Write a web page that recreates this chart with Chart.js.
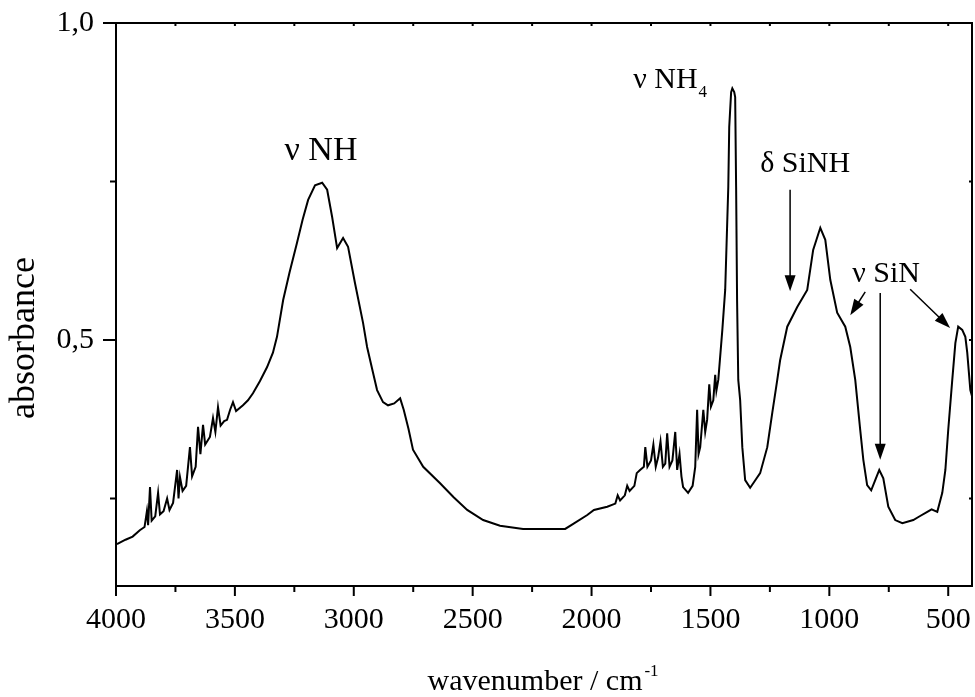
<!DOCTYPE html>
<html>
<head>
<meta charset="utf-8">
<script src="https://cdn.jsdelivr.net/npm/chart.js@4"></script>
<style>
  body { margin: 0; background: #fff; }
  canvas { display: block; }
</style>
</head>
<body>
<canvas id="spectrum" width="975" height="697"></canvas>
<script>
// IR spectrum (wavenumber in cm-1, absorbance)
const wavenumber = [
  3996, 3960, 3930, 3900, 3880, 3870, 3865, 3857, 3850, 3835, 3823, 3815,
  3800, 3785, 3775, 3760, 3743, 3737, 3731, 3720, 3705, 3689, 3680, 3665,
  3655, 3645, 3634, 3625, 3605, 3592, 3582, 3571, 3560, 3545, 3533, 3520,
  3508, 3495, 3466, 3445, 3424, 3395, 3365, 3340, 3323, 3297, 3270, 3239,
  3215, 3192, 3163, 3133, 3112, 3091, 3070, 3045, 3024, 2995, 2961, 2944,
  2920, 2902, 2877, 2856, 2830, 2805, 2790, 2770, 2751, 2708, 2637, 2580,
  2523, 2456, 2385, 2288, 2174, 2111, 2077, 2018, 1990, 1934, 1900, 1890,
  1880, 1860, 1850, 1840, 1820, 1810, 1796, 1780, 1774, 1765, 1750, 1740,
  1730, 1720, 1710, 1700, 1690, 1682, 1672, 1660, 1648, 1640, 1630, 1622,
  1615, 1594, 1575, 1564, 1556, 1550, 1543, 1530, 1522, 1514, 1505, 1498,
  1488, 1480, 1475, 1467, 1450, 1438, 1425, 1421, 1413, 1408, 1400, 1396,
  1392, 1388, 1383, 1375, 1366, 1354, 1333, 1320, 1291, 1261, 1240, 1219,
  1207, 1177, 1135, 1093, 1068, 1038, 1017, 996, 967, 933, 912, 891,
  870, 857, 841, 824, 807, 790, 773, 752, 723, 693, 647, 620,
  588, 570, 546, 525, 512, 500, 483, 470, 458, 441, 428, 420,
  407, 399
];
const absorbance = [
  0.178, 0.185, 0.190, 0.200, 0.205, 0.230, 0.208, 0.268, 0.215, 0.222, 0.259, 0.225,
  0.230, 0.250, 0.232, 0.243, 0.295, 0.250, 0.284, 0.262, 0.270, 0.331, 0.285, 0.300,
  0.363, 0.320, 0.366, 0.335, 0.347, 0.377, 0.355, 0.394, 0.365, 0.372, 0.374, 0.390,
  0.402, 0.388, 0.397, 0.405, 0.416, 0.435, 0.457, 0.480, 0.505, 0.563, 0.607, 0.653,
  0.690, 0.721, 0.744, 0.748, 0.737, 0.694, 0.645, 0.661, 0.647, 0.590, 0.527, 0.489,
  0.450, 0.421, 0.402, 0.397, 0.400, 0.408, 0.390, 0.360, 0.327, 0.300, 0.274, 0.252,
  0.232, 0.216, 0.207, 0.202, 0.202, 0.202, 0.210, 0.224, 0.232, 0.237, 0.242, 0.255,
  0.247, 0.255, 0.270, 0.262, 0.270, 0.290, 0.295, 0.300, 0.331, 0.300, 0.310, 0.335,
  0.300, 0.315, 0.340, 0.300, 0.305, 0.353, 0.300, 0.310, 0.355, 0.295, 0.320, 0.285,
  0.268, 0.259, 0.270, 0.300, 0.390, 0.320, 0.331, 0.390, 0.355, 0.374, 0.430, 0.395,
  0.405, 0.445, 0.420, 0.437, 0.516, 0.579, 0.741, 0.836, 0.891, 0.897, 0.891, 0.883,
  0.741, 0.563, 0.437, 0.405, 0.331, 0.279, 0.267, 0.274, 0.290, 0.331, 0.385, 0.437,
  0.468, 0.521, 0.552, 0.579, 0.642, 0.677, 0.658, 0.595, 0.543, 0.521, 0.489, 0.437,
  0.358, 0.311, 0.271, 0.263, 0.279, 0.295, 0.282, 0.237, 0.216, 0.211, 0.216, 0.222,
  0.229, 0.233, 0.229, 0.259, 0.295, 0.358, 0.437, 0.495, 0.521, 0.516, 0.505, 0.480,
  0.421, 0.410
];

const xTicks = [4000, 3750, 3500, 3250, 3000, 2750, 2500, 2250, 2000, 1750, 1500, 1250, 1000, 750, 500];
const xTickLabels = ['4000', '', '3500', '', '3000', '', '2500', '', '2000', '', '1500', '', '1000', '', '500'];
const yTicks = [0.25, 0.5, 0.75, 1.0];
const yTickLabels = ['', '0,5', '', '1,0'];

const FONT = '"Liberation Serif", "Times New Roman", serif';

function arrow(ctx, x1, y1, x2, y2) {
  const a = Math.atan2(y2 - y1, x2 - x1);
  const len = 16, half = 5.5;
  ctx.beginPath();
  ctx.moveTo(x1, y1);
  ctx.lineTo(x2 - Math.cos(a) * len * 0.8, y2 - Math.sin(a) * len * 0.8);
  ctx.stroke();
  ctx.beginPath();
  ctx.moveTo(x2, y2);
  ctx.lineTo(x2 - Math.cos(a) * len - Math.sin(a) * half, y2 - Math.sin(a) * len + Math.cos(a) * half);
  ctx.lineTo(x2 - Math.cos(a) * len + Math.sin(a) * half, y2 - Math.sin(a) * len - Math.cos(a) * half);
  ctx.closePath();
  ctx.fill();
}

const frame = {
  id: 'frame',
  afterDraw(chart) {
    const ctx = chart.ctx;
    const xs = chart.scales.x, ys = chart.scales.y;
    const {left, right, top, bottom} = chart.chartArea;
    const px = v => xs.getPixelForValue(v);
    const py = v => ys.getPixelForValue(v);
    ctx.save();
    ctx.strokeStyle = '#000';
    ctx.fillStyle = '#000';
    ctx.lineWidth = 2;
    ctx.strokeRect(left, top, right - left, bottom - top);

    // tick marks: outward on bottom/left, small inward on top/right
    ctx.beginPath();
    xTicks.forEach((v, i) => {
      const x = px(v);
      const major = xTickLabels[i] !== '';
      ctx.moveTo(x, bottom);
      ctx.lineTo(x, bottom + (major ? 10 : 6));
      ctx.moveTo(x, top);
      ctx.lineTo(x, top + 3);
    });
    yTicks.forEach((v, i) => {
      const y = py(v);
      const major = yTickLabels[i] !== '';
      ctx.moveTo(left, y);
      ctx.lineTo(left - (major ? 13 : 6), y);
      ctx.moveTo(right, y);
      ctx.lineTo(right - 3, y);
    });
    ctx.stroke();

    // axis titles
    ctx.textBaseline = 'alphabetic';
    ctx.textAlign = 'center';
    ctx.font = '36px ' + FONT;
    ctx.save();
    ctx.translate(34, 338);
    ctx.rotate(-Math.PI / 2);
    ctx.fillText('absorbance', 0, 0);
    ctx.restore();
    ctx.font = '30px ' + FONT;
    const xt = 'wavenumber / cm';
    const w = ctx.measureText(xt).width;
    ctx.textAlign = 'left';
    const x0 = 535 - w / 2;
    ctx.fillText(xt, x0, 690);
    ctx.font = '17px ' + FONT;
    ctx.fillText('-1', x0 + w + 2, 676);

    // band labels
    ctx.font = '34px ' + FONT;
    ctx.textAlign = 'center';
    ctx.fillText('\u03bd NH', px(3138), py(0.784));
    ctx.font = '30px ' + FONT;
    ctx.textAlign = 'left';
    const t4 = '\u03bd NH';
    ctx.fillText(t4, px(1825), py(0.897));
    const w4 = ctx.measureText(t4).width;
    ctx.font = '17px ' + FONT;
    ctx.fillText('4', px(1825) + w4 + 1, py(0.897) + 9);
    ctx.font = '30px ' + FONT;
    ctx.fillText('\u03b4 SiNH', px(1291), py(0.765));
    ctx.fillText('\u03bd SiN', px(904), py(0.591));

    // arrows
    ctx.lineWidth = 1.5;
    arrow(ctx, px(1165), py(0.737), px(1165), py(0.577));
    arrow(ctx, px(849), py(0.576), px(912), py(0.539));
    arrow(ctx, px(786), py(0.574), px(786), py(0.311));
    arrow(ctx, px(660), py(0.580), px(492), py(0.519));
    ctx.restore();
  }
};

new Chart(document.getElementById('spectrum'), {
  type: 'line',
  data: {
    datasets: [{
      data: wavenumber.map((w, i) => ({x: w, y: absorbance[i]})),
      borderColor: '#000',
      borderWidth: 2,
      pointRadius: 0,
      tension: 0,
      fill: false
    }]
  },
  options: {
    responsive: false,
    animation: false,
    devicePixelRatio: 1,
    layout: {padding: {top: 23, right: 3, left: 0, bottom: 0}},
    plugins: {legend: {display: false}, tooltip: {enabled: false}},
    scales: {
      x: {
        type: 'linear',
        reverse: true,
        min: 400,
        max: 4000,
        grid: {display: false, drawTicks: false},
        border: {display: false},
        afterBuildTicks: s => { s.ticks = xTicks.map(v => ({value: v})); },
        afterFit: s => { s.height = 111; s.paddingLeft = 0; s.paddingRight = 0; },
        ticks: {
          autoSkip: false,
          maxRotation: 0,
          padding: 16,
          color: '#000',
          font: {family: FONT, size: 30},
          callback: (v, i) => xTickLabels[i]
        }
      },
      y: {
        type: 'linear',
        min: 0.112,
        max: 1.0,
        grid: {display: false, drawTicks: false},
        border: {display: false},
        afterBuildTicks: s => { s.ticks = yTicks.map(v => ({value: v})); },
        afterFit: s => { s.width = 116; s.paddingTop = 0; s.paddingBottom = 0; },
        ticks: {
          autoSkip: false,
          padding: 22,
          color: '#000',
          font: {family: FONT, size: 30},
          callback: (v, i) => yTickLabels[i]
        }
      }
    }
  },
  plugins: [frame]
});
</script>
</body>
</html>
